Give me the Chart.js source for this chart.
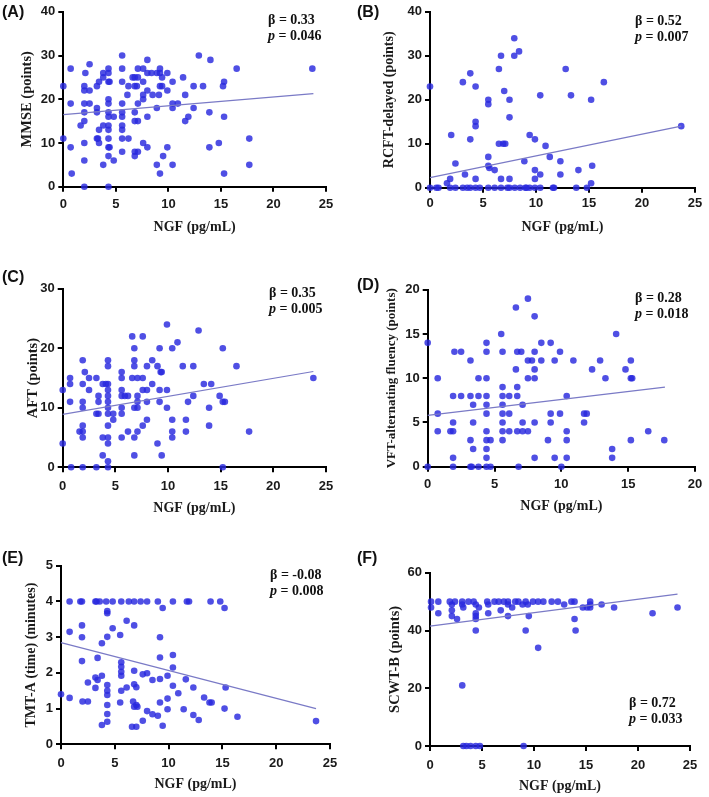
<!DOCTYPE html>
<html><head><meta charset="utf-8">
<script src="https://cdn.jsdelivr.net/npm/chart.js@4.4.1/dist/chart.umd.min.js"></script>
<style>
html,body{margin:0;padding:0;background:#fff;}
body{width:709px;height:797px;position:relative;overflow:hidden;}
canvas{position:absolute;}
.lbl{position:absolute;font:bold 16px "Liberation Sans",Arial,sans-serif;line-height:18px;color:#111;white-space:nowrap;}
.st{position:absolute;font:bold 14px "Liberation Serif","Times New Roman",serif;line-height:16px;color:#111;white-space:nowrap;}
.st i{font-style:italic;}
</style></head><body>
<canvas id="cA"></canvas><canvas id="cB"></canvas><canvas id="cC"></canvas>
<canvas id="cD"></canvas><canvas id="cE"></canvas><canvas id="cF"></canvas>
<script>
// ---------- DATA (NGF pg/mL, score) ----------
const xTitle = 'NGF (pg/mL)';
const panelLabels = ['(A)','(B)','(C)','(D)','(E)','(F)'];
const yTitles = ['MMSE (points)','RCFT-delayed (points)','AFT (points)','VFT-alternating fluency (points)','TMT-A (time) (minutes)','SCWT-B (points)'];
const betas = ['0.33','0.52','0.35','0.28','-0.08','0.72'];
const pvals = ['0.046','0.007','0.005','0.018','0.008','0.033'];
const xTicksWide = [0,5,10,15,20,25];
const xTicksD = [0,5,10,15,20];
const yTicksA = [0,10,20,30,40];
const yTicksB = [0,10,20,30,40];
const yTicksC = [0,10,20,30];
const yTicksD = [0,5,10,15,20];
const yTicksE = [0,1,2,3,4,5];
const yTicksF = [0,20,40,60];

const mmse = [[0,23],[0,11],[0.7,27],[0.7,19],[0.7,9],[0.8,3],[1.65,14],[2,0],[2,6],[2,10],[2,15],[2,17],[2,19],[2,22],[2,23],[2.1,26],[2.5,28],[2.5,22],[2.5,19],[3.2,23],[3.2,18],[3.2,17],[3.2,11],[3.3,11],[3.4,24],[3.4,13],[3.4,10],[3.8,25],[3.8,26],[3.8,14],[3.8,5],[4.3,27],[4.3,26],[4.3,24],[4.4,24],[4.3,20],[4.3,19],[4.3,17],[4.3,16],[4.3,14],[4.3,13],[4.3,11],[4.3,9],[4.3,7],[4.3,0],[4.8,16],[4.8,6],[4.4,9],[5.6,30],[5.6,27],[5.6,24],[5.6,19],[5.6,17],[5.6,16],[5.6,14],[5.6,13],[5.6,11],[5.6,8],[6.1,21],[6.2,23],[6.2,11],[6.6,25],[6.8,25],[6.8,23],[6.8,17],[6.8,15],[6.8,7],[6.8,8],[7,23],[7.1,27],[7.1,25],[7.1,19],[7.1,15],[7.1,8],[7.6,27],[7.6,24],[7.6,21],[7.6,20],[7.6,10],[8,29],[8,26],[8,22],[8,16],[8,9],[8.4,26],[8.5,21],[8.9,26],[8.9,18],[8.9,5],[9.1,21],[9.2,27],[9.2,26],[9.2,23],[9.2,3],[9.4,25],[9.4,23],[9.5,7],[9.9,26],[9.9,22],[9.9,9],[10.4,24],[10.4,19],[10.4,18],[10.4,5],[10.9,19],[11.4,25],[11.6,15],[11.6,21],[11.9,16],[12.4,23],[12.4,18],[12.9,30],[13.3,23],[13.9,17],[13.9,9],[14,29],[14.8,10],[15.3,24],[15.2,23],[15.3,16],[15.3,3],[16.5,27],[17.7,11],[17.7,5],[23.7,27]];
const rcft = [[0,23],[0,0],[0.6,0],[0.8,0],[1.6,1],[1.9,2],[1.9,0],[2,12],[2.4,5.5],[2.4,0],[3.1,0],[3.1,24],[3.3,3],[3.5,0],[3.8,26],[3.8,11],[3.8,0],[4.3,23],[4.3,15],[4.3,14],[4.3,2],[4.3,0],[4.7,0],[5.5,20],[5.5,19],[5.5,7],[5.5,5],[5.6,4.5],[5.5,0],[6.1,4],[6.1,0],[6.5,27],[6.5,10],[6.7,30],[6.7,2],[6.7,0],[6.9,10],[7.1,10],[7,22],[7.3,0],[7.5,20],[7.5,16],[7.5,2],[7.5,0],[7.95,34],[7.95,30],[8,0],[8.4,31],[8.5,0],[9,0],[8.9,6],[9.1,0],[9.4,12],[9.4,0],[9.9,11],[9.9,4],[9.9,2],[9.9,0],[10.4,21],[10.4,3],[10.4,0],[10.9,9.5],[11.3,7],[11.6,0],[11.7,0],[12.3,6],[12.3,3],[12.8,27],[13.3,21],[13.8,0],[14,4],[14.8,0],[15.2,20],[15.2,1],[15.3,5],[16.4,24],[23.7,14]];
const aft = [[0,13],[0,4],[0.7,15],[0.7,14],[0.7,11],[0.8,0],[1.6,6],[1.9,6],[1.9,18],[1.9,14],[1.9,11],[1.9,10],[1.9,7],[1.9,5],[1.9,0],[2.1,16],[2.5,15],[2.5,13],[3.2,15],[3.2,9],[3.2,0],[3.4,12],[3.4,11],[3.4,9],[3.8,14],[3.8,5],[3.8,2],[4.1,14],[4.3,18],[4.3,17],[4.3,14],[4.3,13],[4.3,12],[4.3,11],[4.3,10],[4.3,9],[4.3,7],[4.3,5],[4.3,4],[4.3,1],[4.3,0],[4.8,9],[4.8,8],[5.6,16],[5.6,15],[5.6,13],[5.6,12],[5.6,10],[5.6,9],[5.6,5],[5.9,12],[6.2,12],[6.2,6],[6.6,22],[6.8,20],[6.8,18],[6.8,17],[6.6,15],[6.8,10],[6.8,5],[6.8,2],[7.1,15],[7.1,12],[7.1,11],[7.1,10],[7.1,6],[7.6,22],[7.6,15],[7.6,13],[7.6,7],[8,17],[8,13],[8,11],[8,8],[8.5,18],[8.5,14],[9,17],[9,4],[9.2,20],[9.2,13],[9.2,11],[9.3,16],[9.4,16],[9.4,2],[9.9,24],[9.9,13],[9.9,10],[10.4,20],[10.4,8],[10.4,6],[10.4,5],[10.9,21],[11.4,17],[11.7,8],[11.7,6],[11.9,11],[12.4,17],[12.4,12],[12.9,23],[13.4,14],[13.9,10],[13.9,7],[14.1,14],[14.9,12],[15.2,20],[15.2,11],[15.4,11],[15.2,0],[16.5,17],[17.7,6],[23.8,15]];
const vft = [[0,14],[0,0],[0.75,10],[0.75,6],[0.75,4],[1.7,4],[1.9,8],[1.9,5],[1.9,4],[1.9,1],[1.9,0],[2,13],[2.5,13],[2.5,8],[3.2,12],[3.2,8],[3.2,3],[3.2,0],[3.3,0],[3.4,7],[3.4,5],[3.4,2],[3.8,10],[3.8,8],[3.8,0],[4.4,14],[4.4,13],[4.4,10],[4.4,8],[4.4,7],[4.4,6],[4.4,4],[4.4,3],[4.4,2],[4.4,1],[4.4,0],[4.7,3],[4.7,0],[5.5,15],[5.6,13],[5.6,9],[5.6,8],[5.6,7],[5.6,6],[5.6,5],[5.6,4],[5.6,3],[6.1,8],[6.1,6],[6.1,4],[6.6,18],[6.6,11],[6.7,13],[6.7,9],[6.7,8],[6.7,4],[6.8,0],[7,13],[7.1,7],[7.1,5],[7.1,4],[7.5,19],[7.5,12],[7.5,10],[7.5,4],[8,17],[8,13],[8,11],[8,10],[8,5],[8,1],[7.8,12],[8.5,14],[8.5,12],[9,3],[9.2,14],[9.2,6],[9.2,5],[9.5,12],[9.5,1],[9.9,13],[9.9,6],[10,0],[10.4,8],[10.4,4],[10.4,3],[10.4,1],[10.9,12],[11.7,6],[11.7,5],[11.9,6],[12.3,11],[12.9,12],[13.3,10],[13.8,2],[13.8,1],[14.1,15],[14.8,11],[15.2,12],[15.2,10],[15.3,10],[15.2,3],[16.5,4],[17.7,3]];
const tmta = [[0,1.4],[0.8,4],[0.8,3.15],[0.8,1.3],[1.8,4],[1.95,4],[1.95,3.33],[1.95,3.0],[1.95,2.33],[2,1.2],[2.5,1.2],[2.5,1.73],[3.2,4],[3.3,4],[3.2,1.87],[3.2,1.58],[3.4,2.42],[3.4,1.8],[3.6,4],[3.8,2.83],[3.8,1.92],[3.8,0.54],[4.2,4],[4.3,3.73],[4.3,3.67],[4.3,3.01],[4.3,1.66],[4.3,1.5],[4.3,1.38],[4.3,1.1],[4.3,0.85],[4.3,0.63],[4.8,3.25],[4.8,4],[5.5,3.06],[5.6,2.3],[5.6,2.17],[5.6,2.03],[5.6,1.92],[5.6,1.5],[5.5,1.17],[5.6,4],[6.1,3.46],[6.1,1.59],[6.3,4],[6.8,3.33],[6.8,2.06],[6.8,1.68],[6.8,1.05],[6.7,1.2],[6.6,0.49],[6.8,4],[7.0,1.6],[7.0,1.1],[7.0,0.49],[7.1,1.05],[7.4,4],[7.6,0.66],[7.6,1.96],[8,1.99],[8,4],[8,0.93],[8.5,1.8],[8.5,0.84],[9,4],[9,0.8],[9.2,3],[9.2,2.43],[9.2,1.83],[9.2,1.17],[9.45,3.82],[9.45,0.52],[9.9,1.92],[9.9,1.28],[9.9,0.98],[10.4,4],[10.4,2.5],[10.4,2.15],[10.4,1.64],[10.9,1.43],[11.4,0.98],[11.6,1.82],[11.7,4],[11.9,4],[12.3,1.59],[12.3,0.82],[12.8,0.68],[13.3,1.31],[13.8,1.17],[14,1.17],[13.9,4],[14.8,4],[15.2,3.82],[15.2,1.0],[15.3,1.59],[16.4,0.77],[23.7,0.65]];
const scwt = [[0.1,50],[0.1,48],[0.8,50],[0.8,46],[1.9,50],[2.1,49],[2.1,47],[2.1,45],[2.4,50],[2.6,44],[3.1,50],[3.1,49],[3.2,48],[3.1,21],[3.2,0],[3.5,0],[3.7,50],[3.9,0],[4.2,50],[4.4,49],[4.4,46],[4.4,45],[4.4,44],[4.4,40],[4.4,0],[4.8,0],[4.7,48],[5.5,50],[5.6,49],[5.6,46],[6.2,50],[6.6,50],[6.8,47],[7.1,50],[7.5,50],[7.5,49],[7.5,45],[7.9,48],[8.2,50],[8.5,50],[8.9,49],[9,0],[9.2,50],[9.2,40],[9.4,49],[9.5,45],[9.9,50],[10.4,50],[10.4,34],[10.9,50],[11.7,50],[12.3,50],[12.9,49],[13.6,50],[13.9,50],[13.9,44],[14,40],[14.7,48],[15.1,48],[15.4,48],[15.4,49],[15.4,50],[16.5,49],[17.7,48],[21.4,46],[23.8,48]];

// fitted regression lines (endpoints)
const fitA = [[0,16.5],[23.8,21.3]];
const fitB = [[0,2.3],[23.7,14.0]];
const fitC = [[0,8.9],[23.8,16.1]];
const fitD = [[0,5.8],[17.75,9.0]];
const fitE = [[0,2.85],[23.7,1.0]];
const fitF = [[0,41.5],[23.8,52.6]];

// ---------- LAYOUT (pixel geometry of each panel) ----------
const panels = [
 {id:'cA', pts:mmse, fit:fitA, xt:xTicksWide, yt:yTicksA, cx:0,   axisX:63.3, topY:11.7, bottomY:186.7, rightX:326, yTitleCx:27.7, tickCy:204,   xTitleCy:227.3, yfs:14.5, lblY:12,  stX:268, stY:20},
 {id:'cB', pts:rcft, fit:fitB, xt:xTicksWide, yt:yTicksB, cx:355, axisX:430,  topY:11.7, bottomY:187.7, rightX:695, yTitleCx:389,  tickCy:203,   xTitleCy:227,   yfs:14,   lblY:12,  stX:635, stY:21},
 {id:'cC', pts:aft,  fit:fitC, xt:xTicksWide, yt:yTicksC, cx:0,   axisX:62.7, topY:288.3,bottomY:467.3, rightX:326, yTitleCx:33,   tickCy:486,   xTitleCy:508.3, yfs:14.5, lblY:277, stX:269, stY:293},
 {id:'cD', pts:vft,  fit:fitD, xt:xTicksD,    yt:yTicksD, cx:355, axisX:427.7,topY:289.3,bottomY:466.7, rightX:695, yTitleCx:391.7,tickCy:484,   xTitleCy:506.7, yfs:13,   lblY:285, stX:635, stY:298},
 {id:'cE', pts:tmta, fit:fitE, xt:xTicksWide, yt:yTicksE, cx:0,   axisX:61,   topY:565.7,bottomY:744.3, rightX:330, yTitleCx:31.7, tickCy:763.3, xTitleCy:784.3, yfs:14,   lblY:558, stX:270, stY:575},
 {id:'cF', pts:scwt, fit:fitF, xt:xTicksWide, yt:yTicksF, cx:355, axisX:430,  topY:572.7,bottomY:746,   rightX:690, yTitleCx:395,  tickCy:765,   xTitleCy:786.7, yfs:14.5, lblY:558, stX:629, stY:703}
];

const dotColor = 'rgba(40,40,222,0.82)';
const lineColor = '#7a7ac6';
const tickFont = {family:'"Liberation Sans", Arial, sans-serif', size:13, weight:'bold'};

panels.forEach((p, i) => {
  const cy = Math.floor(p.topY) - 10;
  const T = p.topY - cy;
  const cw = Math.ceil(p.rightX + 18 - p.cx);
  const R = p.cx + cw - p.rightX;
  const ch = Math.min(797 - cy, Math.ceil(p.bottomY + 50 - cy));
  const H = cy + ch - p.bottomY;
  const W = p.axisX - p.cx;
  const cv = document.getElementById(p.id);
  cv.width = cw; cv.height = ch;
  cv.style.left = p.cx + 'px'; cv.style.top = cy + 'px';
  cv.style.width = cw + 'px'; cv.style.height = ch + 'px';

  const yLine = p.yfs * 1.2;
  const xtPad = Math.max(0, p.tickCy - p.bottomY - 5 - 7.8);
  const xTitleBottom = Math.max(0, p.bottomY + H - 8.4 - p.xTitleCy);
  const yTitleTop = Math.max(0, p.yTitleCx - p.cx - yLine / 2);

  const xs = p.xt, ys = p.yt;
  new Chart(cv, {
    type: 'scatter',
    data: {
      datasets: [
        {data: p.pts.map(d => ({x:d[0], y:d[1]})), pointRadius:3.3, pointBackgroundColor:dotColor,
         pointBorderWidth:0, pointHoverRadius:3.3, clip:false, order:1},
        {type:'line', data: p.fit.map(d => ({x:d[0], y:d[1]})), borderColor:lineColor, borderWidth:1.2,
         pointRadius:0, fill:false, clip:false, order:0}
      ]
    },
    options: {
      responsive:false, animation:false, devicePixelRatio:1,
      events: [],
      layout: {autoPadding:false, padding:{left:0, top:T, right:R, bottom:0}},
      plugins: {legend:{display:false}, tooltip:{enabled:false}},
      scales: {
        x: {
          type:'linear', min: xs[0], max: xs[xs.length-1],
          afterFit: s => { s.height = H; },
          afterBuildTicks: s => { s.ticks = xs.map(v => ({value:v})); },
          grid: {display:true, drawOnChartArea:false, drawTicks:true, tickLength:5, color:'#000', lineWidth:2},
          border: {display:true, color:'#000', width:2},
          ticks: {font:tickFont, color:'#1a1a1a', padding:xtPad, maxRotation:0, autoSkip:false},
          title: {display:true, text:xTitle, color:'#1a1a1a', padding:{top:0,bottom:xTitleBottom},
                  font:{family:'"Liberation Serif", "Times New Roman", serif', size:14, weight:'bold'}}
        },
        y: {
          type:'linear', min: ys[0], max: ys[ys.length-1],
          afterFit: s => { s.width = W; },
          afterBuildTicks: s => { s.ticks = ys.map(v => ({value:v})); },
          grid: {display:true, drawOnChartArea:false, drawTicks:true, tickLength:5, color:'#000', lineWidth:2},
          border: {display:true, color:'#000', width:2},
          ticks: {font:tickFont, color:'#1a1a1a', padding:3, autoSkip:false},
          title: {display:true, text:yTitles[i], color:'#1a1a1a', padding:{top:yTitleTop,bottom:0},
                  font:{family:'"Liberation Serif", "Times New Roman", serif', size:p.yfs, weight:'bold'}}
        }
      }
    }
  });

  const lab = document.createElement('div');
  lab.className = 'lbl';
  lab.textContent = panelLabels[i];
  lab.style.left = (p.cx + 2) + 'px';
  lab.style.top = (p.lblY - 9) + 'px';
  document.body.appendChild(lab);

  const st = document.createElement('div');
  st.className = 'st';
  st.style.left = p.stX + 'px';
  st.style.top = (p.stY - 8) + 'px';
  st.innerHTML = '\u03B2 = ' + betas[i] + '<br><i>p</i> = ' + pvals[i];
  document.body.appendChild(st);
});
</script>
</body></html>
